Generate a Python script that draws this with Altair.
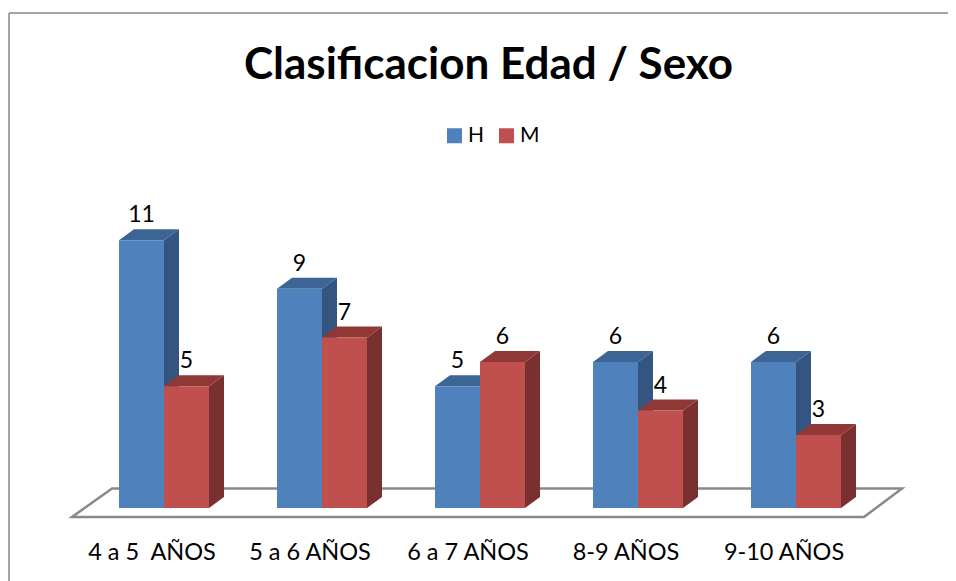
import altair as alt
import pandas as pd

title_text = "Clasificacion Edad / Sexo"
categories = ["4 a 5\u00a0 AÑOS", "5 a 6 AÑOS", "6 a 7 AÑOS", "8-9 AÑOS", "9-10 AÑOS"]
series_names = ["H", "M"]
h_values = [11, 9, 5, 6, 6]
m_values = [5, 7, 6, 4, 3]

FONT = "Lato"
BLUE, RED = "#4F81BD", "#C0504D"
SIDE = {"H": "#34557F", "M": "#7A302F"}
TOP = {"H": "#3C6494", "M": "#8F3836"}

W, H = 940, 565
PX_X, PX_Y = 158.0, 24.35
x_dom = [-144 / PX_X, 796 / PX_X]
y_dom = [-65 / PX_Y, 500 / PX_Y]
BAR = 45 / PX_X
DX, DY = 15 / PX_X, 11 / PX_Y
OFF = {"H": -33 / PX_X, "M": 12 / PX_X}

fronts, sides, tops = [], [], []
for s, vals in zip(series_names, [h_values, m_values]):
    for i, v in enumerate(vals):
        x0 = i + OFF[s]
        x1 = x0 + BAR
        fronts.append(dict(series=s, cat=i, x0=x0, x1=x1, mid=(x0 + x1) / 2, v=v, base=0))
        sides += [dict(series=s, cat=i, x=x1, lo=0, hi=v),
                  dict(series=s, cat=i, x=x1 + DX, lo=DY, hi=v + DY)]
        tops += [dict(series=s, cat=i, y=v, a=x0, b=x1),
                 dict(series=s, cat=i, y=v + DY, a=x0 + DX, b=x1 + DX)]
fronts, sides, tops = map(pd.DataFrame, (fronts, sides, tops))

xs = alt.Scale(domain=x_dom, nice=False, zero=False)
ys = alt.Scale(domain=y_dom, nice=False, zero=False)
X = lambda f: alt.X(f, type="quantitative", scale=xs, axis=None)
Y = lambda f: alt.Y(f, type="quantitative", scale=ys, axis=None)

# floor of the 3-D scene
floor = pd.DataFrame({
    "y": [-9 / PX_Y, 19.5 / PX_Y],
    "a": [(72 - 152) / PX_X, (112 - 152) / PX_X],
    "b": [(864 - 152) / PX_X, (902 - 152) / PX_X],
})
floor_layer = alt.Chart(floor).mark_area(
    orient="horizontal", fill="white", stroke="#898989", strokeWidth=2.5
).encode(x=X("a"), x2="b:Q", y=Y("y"))

layers = [floor_layer]
for s in series_names:
    side = alt.Chart(sides[sides.series == s]).mark_area(color=SIDE[s], orient="vertical").encode(
        x=X("x"), y=Y("lo"), y2="hi:Q", detail="cat:N")
    top = alt.Chart(tops[tops.series == s]).mark_area(color=TOP[s], orient="horizontal").encode(
        y=Y("y"), x=X("a"), x2="b:Q", detail="cat:N")
    front = alt.Chart(fronts[fronts.series == s]).mark_rect().encode(
        x=X("x0"), x2="x1:Q", y=Y("v"), y2="base:Q",
        color=alt.Color("series:N", scale=alt.Scale(domain=series_names, range=[BLUE, RED]),
                        legend=alt.Legend(
                            title=None, orient="none", legendX=436, legendY=117,
                            direction="horizontal", symbolType="square", symbolSize=225,
                            symbolStrokeWidth=0, labelFont=FONT, labelFontSize=21,
                            labelColor="black", columnPadding=11, labelOffset=3, padding=0,
                            symbolOpacity=1)),
    )
    layers += [side, top, front]

labels = alt.Chart(fronts).mark_text(
    font=FONT, fontSize=23, color="black", dy=-25, baseline="middle", align="center"
).encode(x=X("mid"), y=Y("v"), text="v:Q")
layers.append(labels)

cat_df = pd.DataFrame({"i": range(len(categories)), "name": categories, "y": -45 / PX_Y})
cat_labels = alt.Chart(cat_df).mark_text(
    font=FONT, fontSize=23.5, color="black", baseline="middle", align="center"
).encode(x=X("i"), y=Y("y"), text="name:N")
layers.append(cat_labels)

frame_top = alt.Chart(pd.DataFrame({"k": [0]})).mark_rule(color="#868686", strokeWidth=1.5).encode(
    x=alt.value(1), x2=alt.value(W), y=alt.value(5))
frame_left = alt.Chart(pd.DataFrame({"k": [0]})).mark_rule(color="#868686", strokeWidth=1.5).encode(
    x=alt.value(1), y=alt.value(5), y2=alt.value(H + 8))
layers += [frame_top, frame_left]

chart = alt.layer(*layers).properties(
    width=W, height=H,
    autosize=alt.AutoSizeParams(type="none"),
    padding={"left": 0, "top": 0, "right": 0, "bottom": 8},
    title=alt.TitleParams(title_text, font=FONT, fontSize=44, fontWeight="bold", color="black",
                          anchor="middle", offset=-71, dx=10.5, dy=44, baseline="alphabetic"),
).configure_view(stroke=None)

chart.save("out.html", embed_options={"renderer": "svg", "actions": False})
